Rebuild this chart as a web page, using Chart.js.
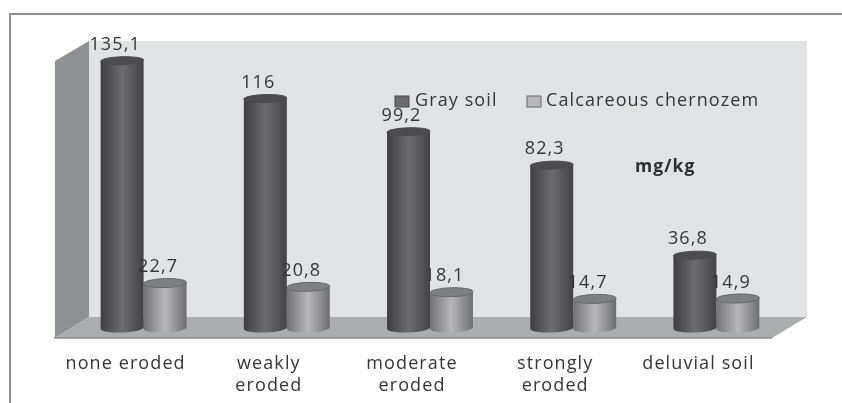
<!DOCTYPE html>
<html>
<head>
<meta charset="utf-8">
<script src="https://cdn.jsdelivr.net/npm/chart.js@4"></script>
<style>
  html, body { margin: 0; padding: 0; background: #fff; overflow: hidden; }
  canvas { display: block; filter: blur(0.7px); }
</style>
</head>
<body>
<canvas id="myChart" width="842" height="403"></canvas>
<script>
const categories = ['none eroded', ['weakly', 'eroded'], ['moderate', 'eroded'], ['strongly', 'eroded'], 'deluvial soil'];
const graySoil = [135.1, 116, 99.2, 82.3, 36.8];
const chernozem = [22.7, 20.8, 18.1, 14.7, 14.9];
const seriesNames = ['Gray soil', 'Calcareous chernozem'];
const unitLabel = 'mg/kg';

const FONT = '"Open Sans", sans-serif';
const TEXT = '#353537';
const CAT_PCT = 0.6;

// cylinder shading, [edge, middle, edge, top cap]
const shades = [
    ['#3e3e40', '#6c6c6e', '#434345', '#4c4c4e'],
    ['#727274', '#b8b8ba', '#6e6e70', '#7e7f81']
];

function sideShade(ctx, left, w, s) {
    const g = ctx.createLinearGradient(left, 0, left + w, 0);
    g.addColorStop(0, s[0]);
    g.addColorStop(0.5, s[1]);
    g.addColorStop(1, s[2]);
    return g;
}

function cylinderFill(c) {
    const chart = c.chart;
    const s = shades[c.datasetIndex];
    if (!chart.chartArea || c.dataIndex === undefined) return s[1];
    const x = chart.scales.x;
    const w = x.width / categories.length * CAT_PCT / 2;
    const left = x.getPixelForValue(c.dataIndex) + (c.datasetIndex - 1) * w;
    return sideShade(chart.ctx, left, w, s);
}

function poly(ctx, pts, fill) {
    ctx.beginPath();
    pts.forEach((p, i) => i ? ctx.lineTo(p[0], p[1]) : ctx.moveTo(p[0], p[1]));
    ctx.closePath();
    ctx.fillStyle = fill;
    ctx.fill();
}

function cap(ctx, bar, y, ry, fill, stroke) {
    ctx.beginPath();
    ctx.ellipse(bar.x, y, bar.width / 2, ry, -0.03, 0, Math.PI * 2);
    ctx.fillStyle = fill;
    ctx.fill();
    if (stroke) {
        ctx.strokeStyle = stroke;
        ctx.lineWidth = 1;
        ctx.stroke();
    }
}

const scene = {
    id: 'scene',
    beforeDatasetsDraw(chart) {
        const ctx = chart.ctx;
        ctx.save();
        // outer frame
        ctx.strokeStyle = '#8d8d8d';
        ctx.lineWidth = 2;
        ctx.beginPath();
        ctx.moveTo(10, 403);
        ctx.lineTo(10, 14);
        ctx.lineTo(842, 14);
        ctx.stroke();
        // walls and floor
        poly(ctx, [[89, 41], [807, 41], [807, 317], [89, 317]], '#e2e3e5');
        poly(ctx, [[55, 61], [89, 41], [89, 317], [55, 338]], '#8f9093');
        poly(ctx, [[55, 338], [772, 338], [807, 317], [89, 317]], '#abadaf');
        ctx.strokeStyle = '#8a8b8d';
        ctx.lineWidth = 1.5;
        ctx.beginPath();
        ctx.moveTo(54, 338);
        ctx.lineTo(772, 338);
        ctx.stroke();
        ctx.restore();
    },
    beforeDatasetDraw(chart, args) {
        const s = shades[args.index];
        args.meta.data.forEach(bar => {
            const fill = sideShade(chart.ctx, bar.x - bar.width / 2, bar.width, s);
            cap(chart.ctx, bar, bar.base, 4.5, fill);
        });
    },
    afterDatasetDraw(chart, args) {
        const s = shades[args.index];
        const ry = args.index ? 4.5 : 4;
        args.meta.data.forEach(bar => cap(chart.ctx, bar, bar.y, ry, s[3], args.index ? '#68686a' : '#4c4c4e'));
    },
    afterDatasetsDraw(chart) {
        const ctx = chart.ctx;
        ctx.save();
        ctx.textBaseline = 'middle';
        ctx.textAlign = 'center';
        ctx.fillStyle = TEXT;
        ctx.font = '18px ' + FONT;
        chart.data.datasets.forEach((ds, i) => {
            chart.getDatasetMeta(i).data.forEach((bar, j) => {
                ctx.fillText(String(ds.data[j]).replace('.', ','), bar.x - 7, bar.y - 16);
            });
        });

        // legend
        ctx.textAlign = 'left';
        [[395, 415], [527, 546]].forEach((pos, i) => {
            ctx.fillStyle = shades[i][1];
            ctx.strokeStyle = i ? '#6a6a6c' : '#4a4a4c';
            ctx.lineWidth = 1;
            ctx.fillRect(pos[0], 96, 14, 11);
            ctx.strokeRect(pos[0], 96, 14, 11);
            ctx.fillStyle = TEXT;
            ctx.fillText(chart.data.datasets[i].label, pos[1], 101);
        });

        ctx.font = 'bold 17.5px ' + FONT;
        ctx.fillStyle = '#2e2e30';
        ctx.fillText(unitLabel, 635, 167);
        ctx.restore();
    }
};

// the reference text runs wide, open it up a little
Chart.register({
    id: 'wideText',
    beforeDraw(chart) {
        chart.ctx.letterSpacing = '1.1px';
    }
});

new Chart(document.getElementById('myChart'), {
    type: 'bar',
    data: {
        labels: categories,
        datasets: [
            { label: seriesNames[0], data: graySoil, backgroundColor: cylinderFill },
            { label: seriesNames[1], data: chernozem, backgroundColor: cylinderFill }
        ]
    },
    options: {
        responsive: false,
        animation: false,
        events: [],
        layout: { padding: { left: 72, right: 54, top: 51, bottom: 0 } },
        datasets: { bar: { categoryPercentage: CAT_PCT, barPercentage: 1 } },
        scales: {
            x: {
                afterFit(scale) { scale.height = 75; },
                grid: { display: false, drawTicks: false },
                border: { display: false },
                ticks: {
                    autoSkip: false,
                    maxRotation: 0,
                    labelOffset: -18,
                    padding: 24,
                    color: TEXT,
                    font: { family: FONT, size: 18, lineHeight: 1.27 }
                }
            },
            y: {
                display: false,
                min: 0,
                max: 140
            }
        },
        plugins: {
            legend: { display: false },
            tooltip: { enabled: false }
        }
    },
    plugins: [scene]
});
</script>
</body>
</html>
